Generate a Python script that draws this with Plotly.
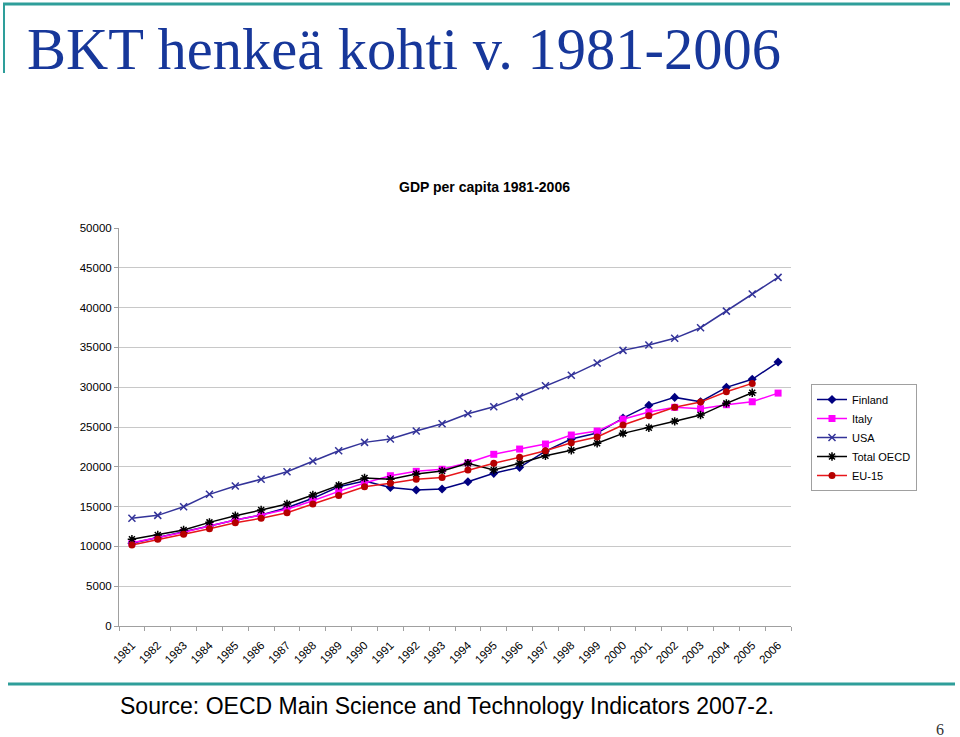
import plotly.graph_objects as go

years = [str(y) for y in range(1981, 2007)]

finland = [10390, 11090, 11770, 12560, 13310, 13940, 14860, 16040, 17500, 18210,
           17400, 17080, 17210, 18120, 19180, 19930, 21980, 23490, 24240, 26120,
           27720, 28720, 28170, 29980, 30990, 33160]
italy = [10460, 11090, 11770, 12560, 13310, 13940, 14660, 15740, 16910, 17960,
         18880, 19430, 19690, 20510, 21570, 22230, 22860, 23990, 24490, 25980,
         26880, 27470, 27290, 27800, 28170, 29260]
usa = [13530, 13900, 14980, 16540, 17590, 18430, 19380, 20730, 22020, 23070,
       23490, 24490, 25410, 26670, 27540, 28800, 30180, 31490, 33030, 34630,
       35290, 36140, 37470, 39560, 41700, 43800]
oecd = [10890, 11430, 12060, 13020, 13850, 14570, 15320, 16450, 17670, 18590,
        18430, 19090, 19470, 20440, 19590, 20440, 21390, 22070, 22950, 24200,
        24910, 25710, 26500, 27970, 29300, None]
eu15 = [10170, 10890, 11520, 12220, 12970, 13530, 14230, 15320, 16390, 17500,
        17920, 18430, 18650, 19590, 20440, 21190, 22020, 23020, 23740, 25250,
        26410, 27470, 28130, 29430, 30480, None]

y_ticks = [0, 5000, 10000, 15000, 20000, 25000, 30000, 35000, 40000, 45000, 50000]

# plot area in pixels
L, R, T, B = 119, 791, 228, 626
W, H = 960, 737


def px(x):
    return (x - L) / (R - L)


def py(y):
    return (B - y) / (B - T)


fig = go.Figure()
fig.add_trace(go.Scatter(x=years, y=finland, name="Finland", mode="lines+markers",
                         line=dict(color="#000080", width=1.5),
                         marker=dict(symbol="diamond", size=7, color="#000080")))
fig.add_trace(go.Scatter(x=years, y=italy, name="Italy", mode="lines+markers",
                         line=dict(color="#FF00FF", width=1.5),
                         marker=dict(symbol="square", size=7, color="#FF00FF")))
fig.add_trace(go.Scatter(x=years, y=usa, name="USA", mode="lines+markers",
                         line=dict(color="#333399", width=1.5),
                         marker=dict(symbol="x-thin-open", size=7,
                                     line=dict(color="#1a1a80", width=1.5))))
fig.add_trace(go.Scatter(x=years, y=oecd, name="Total OECD", mode="lines+markers",
                         line=dict(color="#000000", width=1.5),
                         marker=dict(symbol="asterisk-open", size=7,
                                     line=dict(color="#000000", width=1.5))))
fig.add_trace(go.Scatter(x=years, y=eu15, name="EU-15", mode="lines+markers",
                         line=dict(color="#E8161B", width=1.5),
                         marker=dict(symbol="circle", size=7, color="#B50000")))

teal = "#2E9E9A"
shapes = [
    dict(type="line", xref="paper", yref="paper", x0=px(3), x1=px(950), y0=py(4), y1=py(4),
         line=dict(color=teal, width=3)),
    dict(type="line", xref="paper", yref="paper", x0=px(4), x1=px(4), y0=py(4), y1=py(73),
         line=dict(color=teal, width=2)),
    dict(type="line", xref="paper", yref="paper", x0=px(8), x1=px(955), y0=py(684), y1=py(684),
         line=dict(color=teal, width=3)),
    # no gridline at the top of the value axis in the original
    dict(type="line", xref="paper", yref="y", x0=px(120.5), x1=1.0, y0=50000, y1=50000,
         line=dict(color="white", width=2), layer="above"),
]

annotations = [
    dict(text="BKT henkeä kohti v. 1981-2006", xref="paper", yref="paper",
         x=px(25), y=py(50), xanchor="left", yanchor="middle", showarrow=False,
         font=dict(family="Liberation Serif", size=58.5, color="#17379A")),
    dict(text="<b>GDP per capita 1981-2006</b>", xref="paper", yref="paper",
         x=px(484), y=py(187), xanchor="center", yanchor="middle", showarrow=False,
         font=dict(family="Liberation Sans", size=14, color="#000000")),
    dict(text="Source: OECD Main Science and Technology Indicators 2007-2.", xref="paper",
         yref="paper", x=px(447), y=py(706), xanchor="center", yanchor="middle",
         showarrow=False, font=dict(family="Liberation Sans", size=23, color="#000000")),
    dict(text="6", xref="paper", yref="paper", x=px(940), y=py(729), xanchor="center",
         yanchor="middle", showarrow=False,
         font=dict(family="Liberation Serif", size=16, color="#333333")),
]

fig.update_layout(
    width=W, height=H,
    margin=dict(l=L, r=W - R, t=T, b=H - B, pad=0),
    paper_bgcolor="white", plot_bgcolor="white",
    font=dict(family="Liberation Sans", size=11, color="#000000"),
    showlegend=True,
    legend=dict(x=px(811), y=py(384), xanchor="left", yanchor="top",
                bordercolor="#A0A0A0", borderwidth=1, bgcolor="white",
                font=dict(size=11), tracegroupgap=0, itemwidth=30),
    shapes=shapes, annotations=annotations,
    xaxis=dict(type="category", range=[-0.5, 25.5], tickangle=-45, showgrid=False,
               showline=True, linecolor="#A0A0A0", linewidth=1,
               ticks="outside", ticklen=4, tickcolor="#A0A0A0", tickson="boundaries",
               ticklabelstandoff=7, tickfont=dict(size=11.5)),
    yaxis=dict(range=[0, 50000], tickvals=y_ticks, tickformat="d", showgrid=True,
               gridcolor="#C8C8C8", gridwidth=1, showline=True, linecolor="#A0A0A0",
               linewidth=1, ticks="outside", ticklen=4, tickcolor="#A0A0A0",
               zeroline=False, tickfont=dict(size=11.5)),
)

fig.write_html("out.html", config={"displayModeBar": False},
               post_script="document.body.style.margin='0';document.body.style.padding='0';")
